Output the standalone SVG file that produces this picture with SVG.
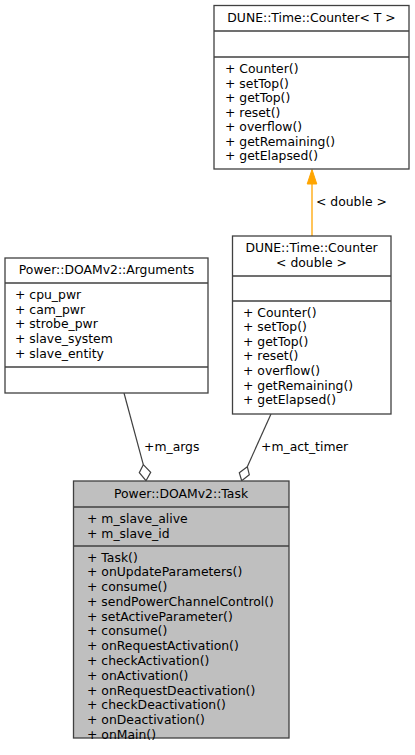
<svg xmlns="http://www.w3.org/2000/svg" width="415" height="755" viewBox="0 0 415 755">
<style>
.box{fill:#ffffff;stroke:#404040;stroke-width:1.3}
.task{fill:#bfbfbf;stroke:#404040;stroke-width:1.3}
.div{stroke:#404040;stroke-width:1.3}
text{font-family:"DejaVu Sans",sans-serif;font-size:12.4px;fill:#000000}
.c{text-anchor:middle}
.edge{fill:none;stroke:#404040;stroke-width:1.2}
.dia{fill:#ffffff;stroke:#404040;stroke-width:1.2}
</style>
<rect width="415" height="755" fill="#ffffff"/>
<g id="edges">
<path d="M312,236 L312,184" fill="none" stroke="#ffa500" stroke-width="1.3"/>
<polygon points="312,169.5 307.2,184 316.8,184" fill="#ffa500" stroke="#ffa500"/>
<text x="316" y="206">&lt; double &gt;</text>
<path class="edge" d="M124,393 L143.3,464.7"/>
<polygon class="dia" points="143.3,464.7 150.7,472.3 146,480.7 139.3,472.7"/>
<text x="144" y="451">+m_args</text>
<path class="edge" d="M271,414 L247.3,466.7"/>
<polygon class="dia" points="247.3,466.7 249.3,474.7 241.7,480.7 239.3,472.7"/>
<text x="261" y="451">+m_act_timer</text>
</g>
<g id="counterT">
<rect class="box" x="214" y="5.5" width="195" height="163.5"/>
<line class="div" x1="214" y1="31" x2="409" y2="31"/>
<line class="div" x1="214" y1="57" x2="409" y2="57"/>
<text class="c" x="311.5" y="22">DUNE::Time::Counter&lt; T &gt;</text>
<text x="225" y="73">+ Counter()</text>
<text x="225" y="87.5">+ setTop()</text>
<text x="225" y="102">+ getTop()</text>
<text x="225" y="116.5">+ reset()</text>
<text x="225" y="131">+ overflow()</text>
<text x="225" y="145.5">+ getRemaining()</text>
<text x="225" y="160">+ getElapsed()</text>
</g>
<g id="counterDouble">
<rect class="box" x="232.5" y="236" width="158.5" height="178"/>
<line class="div" x1="232.5" y1="276" x2="391" y2="276"/>
<line class="div" x1="232.5" y1="301" x2="391" y2="301"/>
<text class="c" x="311.5" y="252">DUNE::Time::Counter</text>
<text class="c" x="311.5" y="267">&lt; double &gt;</text>
<text x="243" y="316.5">+ Counter()</text>
<text x="243" y="331.1">+ setTop()</text>
<text x="243" y="345.7">+ getTop()</text>
<text x="243" y="360.3">+ reset()</text>
<text x="243" y="374.9">+ overflow()</text>
<text x="243" y="389.5">+ getRemaining()</text>
<text x="243" y="404.1">+ getElapsed()</text>
</g>
<g id="arguments">
<rect class="box" x="5" y="258" width="203" height="135"/>
<line class="div" x1="5" y1="283" x2="208" y2="283"/>
<line class="div" x1="5" y1="367" x2="208" y2="367"/>
<text class="c" x="106.5" y="274">Power::DOAMv2::Arguments</text>
<text x="15" y="299">+ cpu_pwr</text>
<text x="15" y="313.7">+ cam_pwr</text>
<text x="15" y="328.4">+ strobe_pwr</text>
<text x="15" y="343.1">+ slave_system</text>
<text x="15" y="357.8">+ slave_entity</text>
</g>
<g id="task">
<rect class="task" x="73.5" y="481" width="215.5" height="257"/>
<line class="div" x1="73.5" y1="507" x2="289" y2="507"/>
<line class="div" x1="73.5" y1="546" x2="289" y2="546"/>
<text class="c" x="181" y="498">Power::DOAMv2::Task</text>
<text x="87" y="523">+ m_slave_alive</text>
<text x="87" y="537.5">+ m_slave_id</text>
<text x="87" y="561.5">+ Task()</text>
<text x="87" y="576.3">+ onUpdateParameters()</text>
<text x="87" y="591.1">+ consume()</text>
<text x="87" y="605.8">+ sendPowerChannelControl()</text>
<text x="87" y="620.6">+ setActiveParameter()</text>
<text x="87" y="635.4">+ consume()</text>
<text x="87" y="650.2">+ onRequestActivation()</text>
<text x="87" y="665">+ checkActivation()</text>
<text x="87" y="679.7">+ onActivation()</text>
<text x="87" y="694.5">+ onRequestDeactivation()</text>
<text x="87" y="709.3">+ checkDeactivation()</text>
<text x="87" y="724.1">+ onDeactivation()</text>
<text x="87" y="738.9">+ onMain()</text>
</g>
</svg>
